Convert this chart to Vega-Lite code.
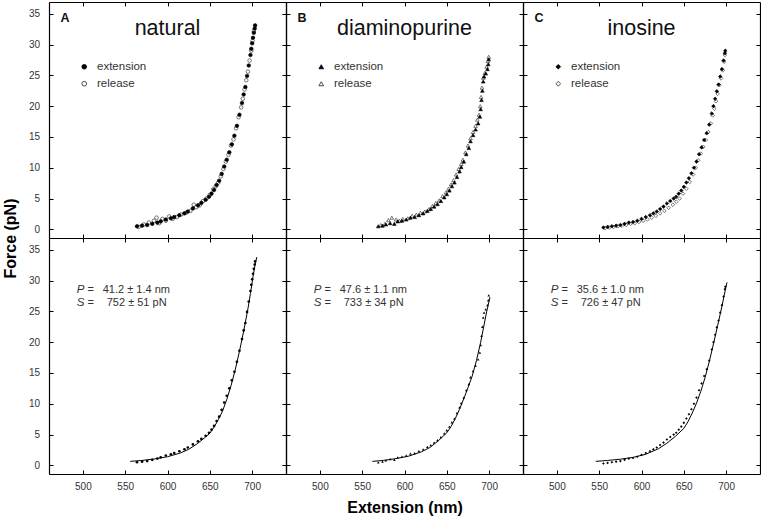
{
"$schema":"https://vega.github.io/schema/vega-lite/v6.json",
"padding":{"left":2,"top":1,"right":0,"bottom":0},
"concat":[
{"width":237,"height":236,"layer":[
 {"data":{"name":"A"},"mark":{"type":"point","filled":true,"strokeWidth":0.6,"size":13,"opacity":1},
  "encoding":{
   "x":{"field":"x","type":"quantitative","scale":{"domain":[460,740],"nice":false,"zero":false},"axis":{"orient":"bottom","values":[500,550,600,650,700],"labels":false,"title":null}},
   "y":{"field":"y","type":"quantitative","scale":{"domain":[-1.4,36.9],"nice":false,"zero":false},"axis":{"orient":"left","values":[0,5,10,15,20,25,30,35],"title":"Force (pN)","titleX":-39,"titleY":236,"titleAngle":-90,"titleBaseline":"middle","titleAlign":"center"}},
   "shape":{"field":"s","type":"nominal","scale":{"domain":["extension","release"],"range":["circle","circle"]},"legend":{"orient":"none","legendX":29.5,"legendY":59,"title":null}},
   "fill":{"field":"s","type":"nominal","scale":{"domain":["extension","release"],"range":["black","white"]},"legend":{"orient":"none","legendX":29.5,"legendY":59,"title":null}},
   "stroke":{"field":"s","type":"nominal","scale":{"domain":["extension","release"],"range":["black","#222"]},"legend":{"orient":"none","legendX":29.5,"legendY":59,"title":null}}}},
 {"data":{"values":[{"t":"natural","x":600,"y":31.5}]},"mark":{"type":"text","fontSize":21.5,"color":"#111","align":"center","baseline":"alphabetic"},
  "encoding":{"x":{"field":"x","type":"quantitative","axis":{"orient":"top","values":[500,550,600,650,700],"labels":false,"title":null}},"y":{"field":"y","type":"quantitative","axis":{"orient":"right","values":[0,5,10,15,20,25,30,35],"labels":false,"title":null}},"text":{"field":"t"}}},
 {"data":{"values":[{"t":"A","x":473.5,"y":33.6}]},"mark":{"type":"text","fontSize":12.5,"fontWeight":"bold","color":"#111","align":"left","baseline":"alphabetic"},
  "encoding":{"x":{"field":"x","type":"quantitative","axis":null},"y":{"field":"y","type":"quantitative","axis":null},"text":{"field":"t"}}}
],"resolve":{"axis":{"x":"independent","y":"independent"}}},
{"width":237,"height":236,"layer":[
 {"data":{"name":"B"},"mark":{"type":"point","filled":true,"strokeWidth":0.6,"size":13,"opacity":1},
  "encoding":{
   "x":{"field":"x","type":"quantitative","scale":{"domain":[460,740],"nice":false,"zero":false},"axis":{"orient":"bottom","values":[500,550,600,650,700],"labels":false,"title":null}},
   "y":{"field":"y","type":"quantitative","scale":{"domain":[-1.4,36.9],"nice":false,"zero":false},"axis":{"orient":"left","values":[0,5,10,15,20,25,30,35],"labels":false,"title":null}},
   "shape":{"field":"s","type":"nominal","scale":{"domain":["extension","release"],"range":["triangle-up","triangle-up"]},"legend":{"orient":"none","legendX":29.5,"legendY":59,"title":null}},
   "fill":{"field":"s","type":"nominal","scale":{"domain":["extension","release"],"range":["black","white"]},"legend":{"orient":"none","legendX":29.5,"legendY":59,"title":null}},
   "stroke":{"field":"s","type":"nominal","scale":{"domain":["extension","release"],"range":["black","#222"]},"legend":{"orient":"none","legendX":29.5,"legendY":59,"title":null}}}},
 {"data":{"values":[{"t":"diaminopurine","x":600,"y":31.5}]},"mark":{"type":"text","fontSize":21.5,"color":"#111","align":"center","baseline":"alphabetic"},
  "encoding":{"x":{"field":"x","type":"quantitative","axis":{"orient":"top","values":[500,550,600,650,700],"labels":false,"title":null}},"y":{"field":"y","type":"quantitative","axis":{"orient":"right","values":[0,5,10,15,20,25,30,35],"labels":false,"title":null}},"text":{"field":"t"}}},
 {"data":{"values":[{"t":"B","x":473.5,"y":33.6}]},"mark":{"type":"text","fontSize":12.5,"fontWeight":"bold","color":"#111","align":"left","baseline":"alphabetic"},
  "encoding":{"x":{"field":"x","type":"quantitative","axis":null},"y":{"field":"y","type":"quantitative","axis":null},"text":{"field":"t"}}}
],"resolve":{"axis":{"x":"independent","y":"independent"}}},
{"width":237,"height":236,"layer":[
 {"data":{"name":"C"},"mark":{"type":"point","filled":true,"strokeWidth":0.6,"size":13,"opacity":1},
  "encoding":{
   "x":{"field":"x","type":"quantitative","scale":{"domain":[460,740],"nice":false,"zero":false},"axis":{"orient":"bottom","values":[500,550,600,650,700],"labels":false,"title":null}},
   "y":{"field":"y","type":"quantitative","scale":{"domain":[-1.4,36.9],"nice":false,"zero":false},"axis":{"orient":"left","values":[0,5,10,15,20,25,30,35],"labels":false,"title":null}},
   "shape":{"field":"s","type":"nominal","scale":{"domain":["extension","release"],"range":["diamond","diamond"]},"legend":{"orient":"none","legendX":29.5,"legendY":59,"title":null}},
   "fill":{"field":"s","type":"nominal","scale":{"domain":["extension","release"],"range":["black","white"]},"legend":{"orient":"none","legendX":29.5,"legendY":59,"title":null}},
   "stroke":{"field":"s","type":"nominal","scale":{"domain":["extension","release"],"range":["black","#222"]},"legend":{"orient":"none","legendX":29.5,"legendY":59,"title":null}}}},
 {"data":{"values":[{"t":"inosine","x":600,"y":31.5}]},"mark":{"type":"text","fontSize":21.5,"color":"#111","align":"center","baseline":"alphabetic"},
  "encoding":{"x":{"field":"x","type":"quantitative","axis":{"orient":"top","values":[500,550,600,650,700],"labels":false,"title":null}},"y":{"field":"y","type":"quantitative","axis":{"orient":"right","values":[0,5,10,15,20,25,30,35],"labels":false,"title":null}},"text":{"field":"t"}}},
 {"data":{"values":[{"t":"C","x":473.5,"y":33.6}]},"mark":{"type":"text","fontSize":12.5,"fontWeight":"bold","color":"#111","align":"left","baseline":"alphabetic"},
  "encoding":{"x":{"field":"x","type":"quantitative","axis":null},"y":{"field":"y","type":"quantitative","axis":null},"text":{"field":"t"}}}
],"resolve":{"axis":{"x":"independent","y":"independent"}}},
{"width":237,"height":236,"layer":[
 {"data":{"name":"A"},"transform":[{"filter":"datum.s==='extension'"}],"mark":{"type":"point","filled":true,"shape":"circle","color":"black","size":7,"opacity":1},
  "encoding":{
   "x":{"field":"x","type":"quantitative","scale":{"domain":[460,740],"nice":false,"zero":false},"axis":{"orient":"bottom","values":[500,550,600,650,700],"title":null}},
   "y":{"field":"y","type":"quantitative","scale":{"domain":[-1.4,36.9],"nice":false,"zero":false},"axis":{"orient":"left","values":[0,5,10,15,20,25,30,35],"title":null}}}},
 {"data":{"name":"fitA"},"mark":{"type":"line","color":"black","strokeWidth":1},
  "encoding":{"x":{"field":"x","type":"quantitative","axis":{"orient":"top","values":[500,550,600,650,700],"labels":false,"title":null}},"y":{"field":"y","type":"quantitative","axis":{"orient":"right","values":[0,5,10,15,20,25,30,35],"labels":false,"title":null}}}},
 {"data":{"values":[{"t":"P","x":492.7,"y":28.0},{"t":"S","x":492.7,"y":25.9}]},"mark":{"type":"text","fontSize":11.5,"fontStyle":"italic","color":"#333","align":"left","baseline":"alphabetic"},
  "encoding":{"x":{"field":"x","type":"quantitative","axis":null},"y":{"field":"y","type":"quantitative","axis":null},"text":{"field":"t"}}},
 {"data":{"values":[{"t":"=","x":505.5,"y":28.0},{"t":"=","x":505.5,"y":25.9},{"t":"41.2 ± 1.4 nm","x":523.5,"y":28.0},{"t":"752 ± 51 pN","x":528.2,"y":25.9}]},"mark":{"type":"text","fontSize":11,"color":"#333","align":"left","baseline":"alphabetic"},
  "encoding":{"x":{"field":"x","type":"quantitative","axis":null},"y":{"field":"y","type":"quantitative","axis":null},"text":{"field":"t"}}}
],"resolve":{"axis":{"x":"independent","y":"independent"}}},
{"width":237,"height":236,"layer":[
 {"data":{"name":"B"},"transform":[{"filter":"datum.s==='extension'"}],"mark":{"type":"point","filled":true,"shape":"triangle-up","color":"black","size":7,"opacity":1},
  "encoding":{
   "x":{"field":"x","type":"quantitative","scale":{"domain":[460,740],"nice":false,"zero":false},"axis":{"orient":"bottom","values":[500,550,600,650,700],"title":"Extension (nm)","titleY":33.5,"titleBaseline":"middle"}},
   "y":{"field":"y","type":"quantitative","scale":{"domain":[-1.4,36.9],"nice":false,"zero":false},"axis":{"orient":"left","values":[0,5,10,15,20,25,30,35],"labels":false,"title":null}}}},
 {"data":{"name":"fitB"},"mark":{"type":"line","color":"black","strokeWidth":1},
  "encoding":{"x":{"field":"x","type":"quantitative","axis":{"orient":"top","values":[500,550,600,650,700],"labels":false,"title":null}},"y":{"field":"y","type":"quantitative","axis":{"orient":"right","values":[0,5,10,15,20,25,30,35],"labels":false,"title":null}}}},
 {"data":{"values":[{"t":"P","x":492.7,"y":28.0},{"t":"S","x":492.7,"y":25.9}]},"mark":{"type":"text","fontSize":11.5,"fontStyle":"italic","color":"#333","align":"left","baseline":"alphabetic"},
  "encoding":{"x":{"field":"x","type":"quantitative","axis":null},"y":{"field":"y","type":"quantitative","axis":null},"text":{"field":"t"}}},
 {"data":{"values":[{"t":"=","x":505.5,"y":28.0},{"t":"=","x":505.5,"y":25.9},{"t":"47.6 ± 1.1 nm","x":523.5,"y":28.0},{"t":"733 ± 34 pN","x":528.2,"y":25.9}]},"mark":{"type":"text","fontSize":11,"color":"#333","align":"left","baseline":"alphabetic"},
  "encoding":{"x":{"field":"x","type":"quantitative","axis":null},"y":{"field":"y","type":"quantitative","axis":null},"text":{"field":"t"}}}
],"resolve":{"axis":{"x":"independent","y":"independent"}}},
{"width":237,"height":236,"layer":[
 {"data":{"name":"C"},"transform":[{"filter":"datum.s==='extension'"}],"mark":{"type":"point","filled":true,"shape":"diamond","color":"black","size":7,"opacity":1},
  "encoding":{
   "x":{"field":"x","type":"quantitative","scale":{"domain":[460,740],"nice":false,"zero":false},"axis":{"orient":"bottom","values":[500,550,600,650,700],"title":null}},
   "y":{"field":"y","type":"quantitative","scale":{"domain":[-1.4,36.9],"nice":false,"zero":false},"axis":{"orient":"left","values":[0,5,10,15,20,25,30,35],"labels":false,"title":null}}}},
 {"data":{"name":"fitC"},"mark":{"type":"line","color":"black","strokeWidth":1},
  "encoding":{"x":{"field":"x","type":"quantitative","axis":{"orient":"top","values":[500,550,600,650,700],"labels":false,"title":null}},"y":{"field":"y","type":"quantitative","axis":{"orient":"right","values":[0,5,10,15,20,25,30,35],"labels":false,"title":null}}}},
 {"data":{"values":[{"t":"P","x":492.7,"y":28.0},{"t":"S","x":492.7,"y":25.9}]},"mark":{"type":"text","fontSize":11.5,"fontStyle":"italic","color":"#333","align":"left","baseline":"alphabetic"},
  "encoding":{"x":{"field":"x","type":"quantitative","axis":null},"y":{"field":"y","type":"quantitative","axis":null},"text":{"field":"t"}}},
 {"data":{"values":[{"t":"=","x":505.5,"y":28.0},{"t":"=","x":505.5,"y":25.9},{"t":"35.6 ± 1.0 nm","x":523.5,"y":28.0},{"t":"726 ± 47 pN","x":528.2,"y":25.9}]},"mark":{"type":"text","fontSize":11,"color":"#333","align":"left","baseline":"alphabetic"},
  "encoding":{"x":{"field":"x","type":"quantitative","axis":null},"y":{"field":"y","type":"quantitative","axis":null},"text":{"field":"t"}}}
],"resolve":{"axis":{"x":"independent","y":"independent"}}}
],
"columns":3,
"spacing":0,
"bounds":"flush",
"resolve":{"scale":{"shape":"independent","fill":"independent","stroke":"independent"},"legend":{"shape":"independent","fill":"independent","stroke":"independent"}},
"datasets":{
"A":[
{"s":"release","x":566,"y":0.4},{"s":"release","x":572,"y":0.8},{"s":"release","x":578,"y":1.1},{"s":"release","x":584,"y":1.4},{"s":"release","x":587,"y":1.9},{"s":"release","x":590,"y":1.0},{"s":"release","x":594,"y":1.7},{"s":"release","x":598,"y":1.4},{"s":"release","x":602,"y":2.1},{"s":"release","x":606,"y":1.7},{"s":"release","x":611,"y":2.0},{"s":"release","x":616,"y":2.4},{"s":"release","x":622,"y":2.7},{"s":"release","x":627,"y":3.0},{"s":"release","x":631,"y":4.0},{"s":"release","x":634,"y":3.6},{"s":"release","x":638,"y":3.9},{"s":"release","x":642,"y":4.6},{"s":"release","x":646,"y":5.0},{"s":"release","x":650,"y":5.6},{"s":"release","x":654,"y":6.5},{"s":"release","x":657,"y":7.0},{"s":"release","x":660,"y":7.6},{"s":"release","x":663,"y":8.6},{"s":"release","x":666,"y":9.8},{"s":"release","x":669,"y":11.0},{"s":"release","x":672,"y":12.1},{"s":"release","x":675,"y":13.6},{"s":"release","x":678,"y":14.6},{"s":"release","x":681,"y":16.4},{"s":"release","x":684,"y":18.2},{"s":"release","x":687,"y":19.8},{"s":"release","x":689,"y":21.2},{"s":"release","x":691,"y":22.7},{"s":"release","x":693,"y":24.2},{"s":"release","x":695,"y":25.6},{"s":"release","x":697,"y":27.4},{"s":"release","x":699,"y":29.0},{"s":"release","x":700.5,"y":30.6},{"s":"release","x":702,"y":32.2},
{"s":"extension","x":564,"y":0.5},{"s":"extension","x":570,"y":0.6},{"s":"extension","x":576,"y":0.7},{"s":"extension","x":582,"y":0.9},{"s":"extension","x":588,"y":1.1},{"s":"extension","x":592,"y":1.3},{"s":"extension","x":598,"y":1.6},{"s":"extension","x":604,"y":1.8},{"s":"extension","x":608,"y":2.0},{"s":"extension","x":614,"y":2.3},{"s":"extension","x":620,"y":2.6},{"s":"extension","x":624,"y":2.9},{"s":"extension","x":630,"y":3.4},{"s":"extension","x":636,"y":3.9},{"s":"extension","x":640,"y":4.3},{"s":"extension","x":645,"y":4.8},{"s":"extension","x":649,"y":5.3},{"s":"extension","x":652,"y":5.8},{"s":"extension","x":655,"y":6.4},{"s":"extension","x":658,"y":7.2},{"s":"extension","x":661,"y":7.9},{"s":"extension","x":664,"y":9.0},{"s":"extension","x":667,"y":10.2},{"s":"extension","x":670,"y":11.3},{"s":"extension","x":673,"y":12.5},{"s":"extension","x":676,"y":13.8},{"s":"extension","x":679,"y":15.2},{"s":"extension","x":682,"y":16.8},{"s":"extension","x":685,"y":18.6},{"s":"extension","x":688,"y":20.5},{"s":"extension","x":690,"y":21.9},{"s":"extension","x":692,"y":23.1},{"s":"extension","x":694,"y":24.9},{"s":"extension","x":696,"y":26.6},{"s":"extension","x":698,"y":28.3},{"s":"extension","x":699,"y":29.3},{"s":"extension","x":700,"y":30.2},{"s":"extension","x":701,"y":31.1},{"s":"extension","x":702,"y":31.9},{"s":"extension","x":703,"y":32.6},{"s":"extension","x":703.5,"y":33.1}
],
"B":[
{"s":"release","x":572,"y":0.7},{"s":"release","x":577,"y":0.9},{"s":"release","x":581,"y":1.5},{"s":"release","x":585,"y":1.9},{"s":"release","x":590,"y":1.6},{"s":"release","x":594,"y":1.4},{"s":"release","x":598,"y":1.7},{"s":"release","x":604,"y":1.8},{"s":"release","x":609,"y":2.2},{"s":"release","x":614,"y":2.4},{"s":"release","x":619,"y":2.7},{"s":"release","x":624,"y":2.9},{"s":"release","x":629,"y":3.3},{"s":"release","x":633,"y":3.8},{"s":"release","x":637,"y":4.3},{"s":"release","x":641,"y":4.7},{"s":"release","x":645,"y":5.4},{"s":"release","x":649,"y":6.0},{"s":"release","x":652,"y":6.6},{"s":"release","x":655,"y":7.3},{"s":"release","x":658,"y":8.0},{"s":"release","x":661,"y":8.9},{"s":"release","x":664,"y":9.8},{"s":"release","x":667,"y":10.6},{"s":"release","x":669,"y":11.3},{"s":"release","x":672,"y":12.5},{"s":"release","x":675,"y":13.6},{"s":"release","x":678,"y":14.8},{"s":"release","x":681,"y":15.8},{"s":"release","x":684,"y":16.8},{"s":"release","x":686,"y":17.8},{"s":"release","x":688,"y":18.6},{"s":"release","x":689.5,"y":20.0},{"s":"release","x":690.5,"y":21.5},{"s":"release","x":691.5,"y":23.0},{"s":"release","x":693,"y":24.6},{"s":"release","x":695,"y":25.4},{"s":"release","x":697,"y":26.4},{"s":"release","x":698.5,"y":27.3},{"s":"release","x":699.5,"y":28.0},
{"s":"extension","x":569,"y":0.5},{"s":"extension","x":574,"y":0.6},{"s":"extension","x":578,"y":0.8},{"s":"extension","x":583,"y":1.0},{"s":"extension","x":588,"y":0.9},{"s":"extension","x":592,"y":1.3},{"s":"extension","x":597,"y":1.4},{"s":"extension","x":602,"y":1.6},{"s":"extension","x":607,"y":1.9},{"s":"extension","x":612,"y":2.0},{"s":"extension","x":617,"y":2.3},{"s":"extension","x":622,"y":2.6},{"s":"extension","x":627,"y":3.0},{"s":"extension","x":631,"y":3.3},{"s":"extension","x":635,"y":3.7},{"s":"extension","x":639,"y":4.1},{"s":"extension","x":643,"y":4.6},{"s":"extension","x":647,"y":5.2},{"s":"extension","x":650,"y":5.7},{"s":"extension","x":653,"y":6.3},{"s":"extension","x":656,"y":7.0},{"s":"extension","x":659,"y":7.6},{"s":"extension","x":662,"y":8.5},{"s":"extension","x":665,"y":9.4},{"s":"extension","x":667,"y":10.1},{"s":"extension","x":670,"y":11.0},{"s":"extension","x":673,"y":12.2},{"s":"extension","x":676,"y":13.2},{"s":"extension","x":678,"y":14.3},{"s":"extension","x":681,"y":15.3},{"s":"extension","x":684,"y":16.2},{"s":"extension","x":687,"y":17.2},{"s":"extension","x":689,"y":18.3},{"s":"extension","x":690,"y":19.5},{"s":"extension","x":691,"y":21.0},{"s":"extension","x":692,"y":22.5},{"s":"extension","x":693,"y":24.0},{"s":"extension","x":694,"y":24.8},{"s":"extension","x":696,"y":25.3},{"s":"extension","x":698,"y":26.0},{"s":"extension","x":699,"y":26.8},{"s":"extension","x":699.5,"y":27.6}
],
"C":[
{"s":"release","x":557,"y":0.2},{"s":"release","x":562,"y":0.3},{"s":"release","x":567,"y":0.4},{"s":"release","x":572,"y":0.5},{"s":"release","x":577,"y":0.6},{"s":"release","x":582,"y":0.7},{"s":"release","x":587,"y":0.9},{"s":"release","x":592,"y":1.0},{"s":"release","x":597,"y":1.2},{"s":"release","x":602,"y":1.4},{"s":"release","x":607,"y":1.6},{"s":"release","x":612,"y":1.9},{"s":"release","x":617,"y":2.2},{"s":"release","x":622,"y":2.6},{"s":"release","x":627,"y":3.0},{"s":"release","x":632,"y":3.5},{"s":"release","x":637,"y":4.0},{"s":"release","x":641,"y":4.5},{"s":"release","x":645,"y":5.0},{"s":"release","x":649,"y":5.8},{"s":"release","x":653,"y":6.6},{"s":"release","x":657,"y":7.7},{"s":"release","x":661,"y":8.9},{"s":"release","x":664,"y":10.0},{"s":"release","x":667,"y":11.2},{"s":"release","x":670,"y":12.3},{"s":"release","x":673,"y":13.4},{"s":"release","x":676,"y":14.5},{"s":"release","x":679,"y":15.8},{"s":"release","x":682,"y":17.2},{"s":"release","x":684,"y":18.5},{"s":"release","x":686,"y":19.6},{"s":"release","x":688,"y":20.8},{"s":"release","x":690,"y":22.0},{"s":"release","x":692,"y":23.4},{"s":"release","x":694,"y":24.5},{"s":"release","x":696,"y":25.8},{"s":"release","x":697.5,"y":27.2},{"s":"release","x":698.5,"y":28.3},
{"s":"extension","x":555,"y":0.3},{"s":"extension","x":560,"y":0.4},{"s":"extension","x":565,"y":0.5},{"s":"extension","x":570,"y":0.6},{"s":"extension","x":575,"y":0.7},{"s":"extension","x":580,"y":0.9},{"s":"extension","x":585,"y":1.1},{"s":"extension","x":590,"y":1.2},{"s":"extension","x":595,"y":1.4},{"s":"extension","x":600,"y":1.7},{"s":"extension","x":605,"y":2.0},{"s":"extension","x":610,"y":2.3},{"s":"extension","x":614,"y":2.6},{"s":"extension","x":618,"y":2.9},{"s":"extension","x":622,"y":3.3},{"s":"extension","x":626,"y":3.7},{"s":"extension","x":630,"y":4.2},{"s":"extension","x":634,"y":4.6},{"s":"extension","x":638,"y":5.0},{"s":"extension","x":641,"y":5.3},{"s":"extension","x":644,"y":5.8},{"s":"extension","x":647,"y":6.3},{"s":"extension","x":650,"y":6.9},{"s":"extension","x":653,"y":7.6},{"s":"extension","x":656,"y":8.3},{"s":"extension","x":659,"y":9.1},{"s":"extension","x":662,"y":10.0},{"s":"extension","x":665,"y":11.0},{"s":"extension","x":668,"y":12.2},{"s":"extension","x":671,"y":13.3},{"s":"extension","x":674,"y":14.5},{"s":"extension","x":677,"y":15.6},{"s":"extension","x":680,"y":17.0},{"s":"extension","x":683,"y":18.8},{"s":"extension","x":685,"y":20.0},{"s":"extension","x":687,"y":21.2},{"s":"extension","x":689,"y":22.4},{"s":"extension","x":691,"y":23.5},{"s":"extension","x":693,"y":24.8},{"s":"extension","x":695,"y":26.0},{"s":"extension","x":697,"y":27.4},{"s":"extension","x":698.5,"y":28.6},{"s":"extension","x":699,"y":29.0}
],
"fitA":[{"x":556,"y":0.65},{"x":570,"y":0.8},{"x":585,"y":1.05},{"x":600,"y":1.4},{"x":615,"y":2.0},{"x":625,"y":2.6},{"x":635,"y":3.5},{"x":645,"y":4.6},{"x":650,"y":5.2},{"x":655,"y":6.2},{"x":660,"y":7.4},{"x":665,"y":8.8},{"x":670,"y":10.7},{"x":675,"y":12.9},{"x":680,"y":15.5},{"x":685,"y":18.5},{"x":690,"y":21.8},{"x":695,"y":25.4},{"x":698,"y":27.9},{"x":701,"y":30.6},{"x":703.5,"y":32.6},{"x":705.5,"y":33.8}],
"fitB":[{"x":562,"y":0.65},{"x":575,"y":0.8},{"x":590,"y":1.1},{"x":605,"y":1.5},{"x":620,"y":2.2},{"x":630,"y":2.9},{"x":640,"y":4.0},{"x":650,"y":5.3},{"x":655,"y":6.3},{"x":660,"y":7.6},{"x":665,"y":9.1},{"x":670,"y":10.8},{"x":675,"y":12.6},{"x":680,"y":14.5},{"x":685,"y":17.0},{"x":690,"y":20.0},{"x":694,"y":22.8},{"x":697,"y":24.9},{"x":701,"y":27.3}],
"fitC":[{"x":546,"y":0.65},{"x":560,"y":0.8},{"x":575,"y":1.0},{"x":590,"y":1.3},{"x":605,"y":1.8},{"x":620,"y":2.7},{"x":630,"y":3.6},{"x":640,"y":4.7},{"x":650,"y":6.0},{"x":655,"y":7.1},{"x":660,"y":8.5},{"x":665,"y":10.1},{"x":670,"y":12.0},{"x":675,"y":14.2},{"x":680,"y":16.8},{"x":685,"y":19.7},{"x":690,"y":22.7},{"x":695,"y":25.8},{"x":698,"y":27.8},{"x":701,"y":29.7}]
},
"config":{
 "view":{"stroke":null},
 "font":"Liberation Sans",
 "axis":{"grid":false,"domainColor":"black","domainWidth":1.2,"tickColor":"black","tickWidth":1,"tickSize":-4,"labelFont":"Liberation Sans","labelFontSize":10,"labelColor":"#333","labelPadding":11.5,"titleFont":"Liberation Sans","titleFontSize":16,"titleFontWeight":"bold","titleColor":"black"},
 "axisY":{"labelPadding":13.5},
 "legend":{"labelFont":"Liberation Sans","labelFontSize":11.5,"labelColor":"#333","symbolSize":22,"symbolStrokeWidth":0.8,"rowPadding":4,"labelOffset":7,"padding":0}
}
}
